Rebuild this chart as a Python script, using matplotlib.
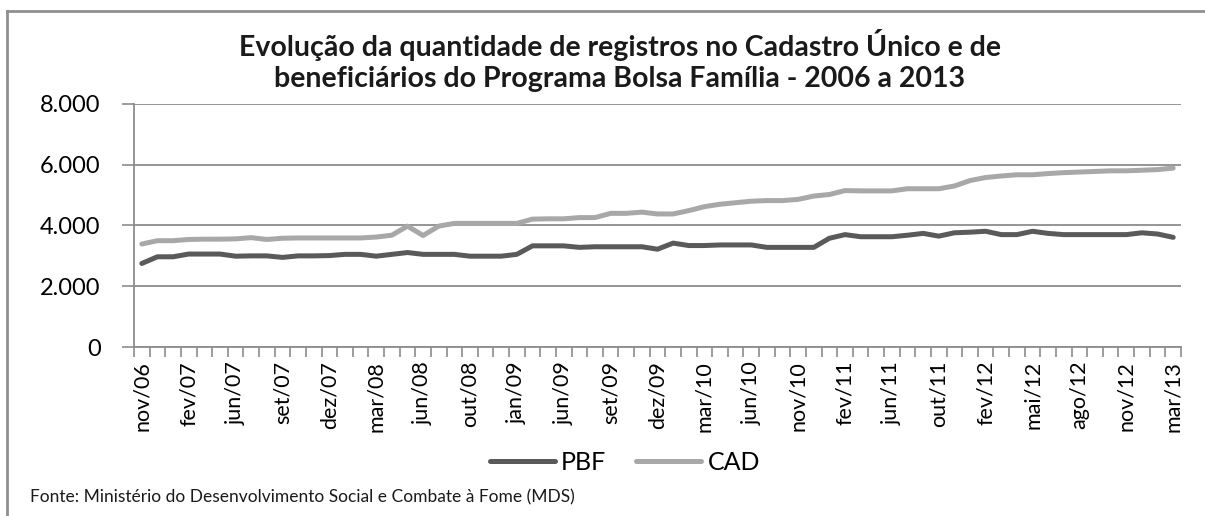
import matplotlib
matplotlib.use("Agg")
import matplotlib.pyplot as plt
import numpy as np
from matplotlib.lines import Line2D
from matplotlib.ticker import FuncFormatter

plt.rcParams["font.family"] = ["Lato", "DejaVu Sans"]

meses = [
    "nov/06", "dez/06", "jan/07", "fev/07", "abr/07", "mai/07", "jun/07", "jul/07",
    "ago/07", "set/07", "out/07", "nov/07", "dez/07", "jan/08", "fev/08", "mar/08",
    "abr/08", "mai/08", "jun/08", "jul/08", "set/08", "out/08", "nov/08", "dez/08",
    "jan/09", "mar/09", "abr/09", "jun/09", "jul/09", "ago/09", "set/09", "out/09",
    "nov/09", "dez/09", "jan/10", "fev/10", "mar/10", "abr/10", "mai/10", "jun/10",
    "jul/10", "set/10", "nov/10", "dez/10", "jan/11", "fev/11", "mar/11", "abr/11",
    "jun/11", "jul/11", "ago/11", "out/11", "nov/11", "dez/11", "fev/12", "mar/12",
    "abr/12", "mai/12", "jun/12", "jul/12", "ago/12", "set/12", "out/12", "nov/12",
    "dez/12", "jan/13", "mar/13",
]

pbf = [
    2750, 2970, 2970, 3060, 3060, 3060, 2990, 3000, 3000, 2950, 3000, 3000,
    3010, 3050, 3050, 2990, 3050, 3110, 3050, 3050, 3050, 2990, 2990, 2990,
    3050, 3330, 3330, 3330, 3280, 3300, 3300, 3300, 3300, 3220, 3420, 3340,
    3340, 3360, 3360, 3360, 3280, 3280, 3280, 3280, 3580, 3700, 3630, 3630,
    3630, 3680, 3740, 3650, 3760, 3780, 3810, 3700, 3700, 3810, 3740, 3700,
    3700, 3700, 3700, 3700, 3760, 3720, 3610,
]

cad = [
    3390, 3500, 3500, 3540, 3550, 3550, 3560, 3600, 3540, 3580, 3590, 3590,
    3590, 3590, 3590, 3620, 3680, 3980, 3670, 3980, 4070, 4070, 4070, 4070,
    4070, 4210, 4220, 4220, 4260, 4260, 4400, 4400, 4440, 4380, 4380, 4490,
    4620, 4700, 4750, 4800, 4820, 4820, 4860, 4970, 5020, 5150, 5140, 5140,
    5140, 5210, 5210, 5210, 5300, 5480, 5580, 5630, 5670, 5670, 5710, 5740,
    5760, 5780, 5800, 5800, 5820, 5840, 5890,
]

W, H = 1205, 516
fig = plt.figure(figsize=(W / 100, H / 100), dpi=100)
fig.patch.set_facecolor("white")
ax = fig.add_axes([134 / W, 1 - 347 / H, (1181 - 134) / W, (347 - 104) / H])

grid_c = "#8c8c8c"
x = np.arange(len(meses))
ax.plot(x, pbf, color="#5a5a5a", lw=3.6, solid_capstyle="round", zorder=3, label="PBF")
ax.plot(x, cad, color="#a8a8a8", lw=3.6, solid_capstyle="round", zorder=2, label="CAD")

ax.set_xlim(-0.5, len(meses) - 0.5)
ax.set_ylim(0, 8000)
ax.set_yticks(np.arange(0, 8001, 2000))
ax.yaxis.set_major_formatter(FuncFormatter(lambda v, p: f"{int(v):,}".replace(",", ".")))
ax.grid(True, axis="y", color=grid_c, lw=1.3)
ax.set_axisbelow(True)

# tick marks between categories, labels every 3rd category
ax.set_xticks(np.arange(-0.5, len(meses)), minor=False)
ax.set_xticklabels([])
ax.set_xticks(x[::3], minor=True)
ax.set_xticklabels(meses[::3], minor=True, rotation=90, fontsize=15.5)
ax.tick_params(axis="x", which="major", length=7, color=grid_c, width=1.2)
ax.tick_params(axis="x", which="minor", length=0, pad=10)
ax.tick_params(axis="y", length=9, color=grid_c, width=1.2, labelsize=17, pad=15)

for s in ["top", "right"]:
    ax.spines[s].set_visible(False)
for s in ["left", "bottom"]:
    ax.spines[s].set_color(grid_c)
    ax.spines[s].set_linewidth(1.3)

titulo = [
    "Evolução da quantidade de registros no Cadastro Único e de",
    "beneficiários do Programa Bolsa Família - 2006 a 2013",
]
for linha, ypix in zip(titulo, [45, 79]):
    fig.text(620 / W, 1 - ypix / H, linha, ha="center", va="center",
             fontsize=20.5, fontweight="bold", color="#1a1a1a")

fig.legend(loc="center", bbox_to_anchor=(625 / W, 1 - 462 / H), ncol=2,
           frameon=False, fontsize=18, handlelength=2.6, handletextpad=0.25,
           columnspacing=1.2)

fig.text(30 / W, 1 - 497 / H,
         "Fonte: Ministério do Desenvolvimento Social e Combate à Fome (MDS)",
         ha="left", va="center", fontsize=12.5, color="#1a1a1a")

# chart frame
frame_c = "#8f8f8f"
fig.add_artist(Line2D([7 / W, 1], [1 - 11 / H, 1 - 11 / H], color=frame_c, lw=2,
                      transform=fig.transFigure))
fig.add_artist(Line2D([7 / W, 7 / W], [0, 1 - 11 / H], color=frame_c, lw=2,
                      transform=fig.transFigure))

fig.savefig("out.png", dpi=100, facecolor=fig.get_facecolor())
